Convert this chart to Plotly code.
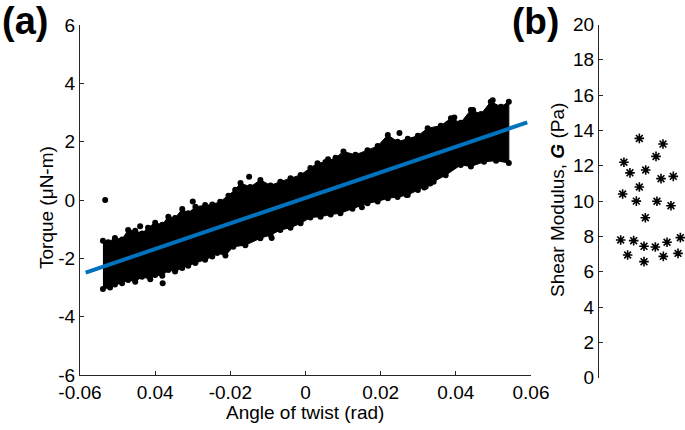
import plotly.graph_objects as go

# ---------------- data ----------------
# Panel (a): torque vs angle of twist -- cloud outline (upper / lower edges of the dense point band)
upper_x = [-0.0539, -0.0525, -0.0507, -0.0488, -0.0472, -0.0453, -0.0435, -0.0419, -0.0400, -0.0381,
           -0.0365, -0.0347, -0.0328, -0.0312, -0.0293, -0.0267, -0.0248, -0.0227, -0.0205, -0.0187,
           -0.0173, -0.0147, -0.0120, -0.0093, -0.0067, -0.0040, -0.0013, 0.0013, 0.0032, 0.0053,
           0.0080, 0.0101, 0.0133, 0.0165, 0.0192, 0.0219, 0.0245, 0.0272, 0.0299, 0.0325,
           0.0360, 0.0387, 0.0413, 0.0440, 0.0467, 0.0493, 0.0520, 0.0541]
upper_y = [-1.40, -1.45, -1.30, -1.35, -1.03, -1.05, -1.15, -0.95, -0.78, -0.85,
           -0.57, -0.62, -0.31, -0.45, -0.23, -0.17, -0.15, -0.06, 0.15, 0.35,
           0.58, 0.45, 0.69, 0.50, 0.63, 0.75, 0.86, 1.10, 1.26, 1.30,
           1.45, 1.66, 1.55, 1.71, 1.85, 2.23, 2.00, 2.10, 2.20, 2.46,
           2.55, 2.80, 2.65, 3.09, 2.95, 3.37, 3.20, 3.37]
lower_x = [-0.0539, -0.0520, -0.0507, -0.0488, -0.0472, -0.0453, -0.0435, -0.0413, -0.0400, -0.0381,
           -0.0365, -0.0347, -0.0328, -0.0312, -0.0293, -0.0267, -0.0248, -0.0235, -0.0213, -0.0192,
           -0.0160, -0.0120, -0.0093, -0.0067, -0.0040, -0.0013, 0.0013, 0.0040, 0.0067, 0.0093,
           0.0125, 0.0165, 0.0192, 0.0219, 0.0245, 0.0272, 0.0299, 0.0320, 0.0341, 0.0373,
           0.0413, 0.0440, 0.0475, 0.0507, 0.0541]
lower_y = [-3.05, -3.00, -2.90, -2.85, -2.74, -2.80, -2.63, -2.72, -2.57, -2.60,
           -2.40, -2.45, -2.33, -2.25, -2.16, -2.05, -1.94, -1.82, -1.90, -1.60,
           -1.55, -1.31, -1.20, -1.03, -0.95, -0.80, -0.60, -0.57, -0.50, -0.45,
           -0.30, -0.11, -0.05, 0.06, 0.10, 0.17, 0.34, 0.46, 0.63, 0.85,
           1.20, 1.15, 1.31, 1.35, 1.27]
# isolated points outside the band
outlier_x = [-0.0533, 0.0498, 0.0396, 0.0446, 0.0316, 0.0332, 0.0269, 0.0218,
             -0.0440, -0.0300, -0.0150, 0.0060, 0.0250, -0.0380, -0.0090, 0.0150]
outlier_y = [0.00, 3.42, 2.83, 3.09, 0.43, 0.57, 0.17, 0.17,
             -0.90, -0.05, 0.80, 1.40, 2.30, -2.85, -1.30, -0.25]
# linear fit line
fit_x = [-0.0585, 0.0590]
fit_y = [-2.49, 2.66]

x_ticks = [-0.06, -0.04, -0.02, 0, 0.02, 0.04, 0.06]
x_ticktext = ["-0.06", "0.04", "-0.02", "0", "0.02", "0.04", "0.06"]
y_ticks = [-6, -4, -2, 0, 2, 4, 6]
y_ticktext = ["-6", "-4", "-2", "0", "2", "4", "6"]

# Panel (b): shear modulus of individual samples (horizontal jitter position, value)
g_pos = [0.252, 0.290, 0.275, 0.333, 0.360, 0.403, 0.434, 0.469, 0.469, 0.523, 0.523, 0.543,
         0.539, 0.655, 0.663, 0.674, 0.744, 0.721, 0.748, 0.791, 0.864, 0.837, 0.919, 0.946]
g_val = [7.80, 12.20, 10.40, 6.95, 11.60, 7.76, 10.00, 13.55, 10.80, 7.44, 6.57, 11.76,
         9.06, 7.40, 12.53, 9.99, 13.23, 11.27, 6.87, 7.67, 11.40, 9.74, 7.04, 7.93]
g_ticks = [0, 2, 4, 6, 8, 10, 12, 14, 16, 18, 20]

# ---------------- figure ----------------
FONT = "Liberation Sans, Arial, Helvetica, sans-serif"
AX = "#262626"
FS = 19

fig = go.Figure()

band_x = upper_x + lower_x[::-1]
band_y = upper_y + lower_y[::-1]
fig.add_trace(go.Scatter(x=band_x, y=band_y, fill="toself", fillcolor="black",
                         mode="lines", line=dict(color="black", width=1),
                         hoverinfo="skip", showlegend=False, xaxis="x", yaxis="y"))
fig.add_trace(go.Scatter(x=upper_x + lower_x + outlier_x, y=upper_y + lower_y + outlier_y,
                         mode="markers", marker=dict(color="black", size=6),
                         showlegend=False, xaxis="x", yaxis="y"))
fig.add_trace(go.Scatter(x=fit_x, y=fit_y, mode="lines",
                         line=dict(color="#0072BD", width=4),
                         showlegend=False, xaxis="x", yaxis="y"))

fig.add_trace(go.Scatter(x=g_pos, y=g_val, mode="markers",
                         marker=dict(symbol="asterisk", size=8, color="black",
                                     line=dict(color="black", width=1.6)),
                         showlegend=False, xaxis="x2", yaxis="y2"))

axis_common = dict(showline=True, linecolor=AX, linewidth=1, ticks="inside", ticklen=4,
                   tickcolor=AX, tickwidth=1, showgrid=False, zeroline=False,
                   automargin=False,
                   tickfont=dict(family=FONT, size=FS, color="black"))

fig.update_layout(
    width=685, height=430,
    margin=dict(l=0, r=0, t=0, b=0, autoexpand=False),
    paper_bgcolor="white", plot_bgcolor="white",
    font=dict(family=FONT, size=FS, color="black"),
    xaxis=dict(domain=[80 / 685, 531 / 685], range=[-0.06, 0.06], anchor="y",
               tickmode="array", tickvals=x_ticks, ticktext=x_ticktext, **axis_common),
    yaxis=dict(domain=[55 / 430, 405 / 430], range=[-6, 6], anchor="x",
               tickmode="array", tickvals=y_ticks, ticktext=y_ticktext, **axis_common),
    xaxis2=dict(domain=[599 / 685, 1.0], range=[0, 1], anchor="y2", visible=False,
                automargin=False),
    yaxis2=dict(domain=[1 - 377.7 / 430, 1 - 24.5 / 430], range=[0, 20], anchor="x2",
                tickmode="array", tickvals=g_ticks, ticktext=[str(v) for v in g_ticks],
                **axis_common),
)

ann = [
    dict(text="Angle of twist (rad)", x=305, y=412),
    dict(text="Torque (μN-m)", x=46, y=208, textangle=-90),
    dict(text="Shear Modulus, <b><i>G</i></b> (Pa)", x=558, y=200, textangle=-90),
    dict(text="<b>(a)</b>", x=25, y=21, size=38),
    dict(text="<b>(b)</b>", x=535, y=21, size=37),
]
for a in ann:
    fig.add_annotation(text=a["text"], x=a["x"] / 685, y=1 - a["y"] / 430,
                       xref="paper", yref="paper", xanchor="center", yanchor="middle",
                       showarrow=False, textangle=a.get("textangle", 0),
                       font=dict(family=FONT, size=a.get("size", FS), color="black"))

fig.write_html("out.html", config={"displayModeBar": False},
               post_script="document.body.style.margin='0';document.body.style.overflow='hidden';")
